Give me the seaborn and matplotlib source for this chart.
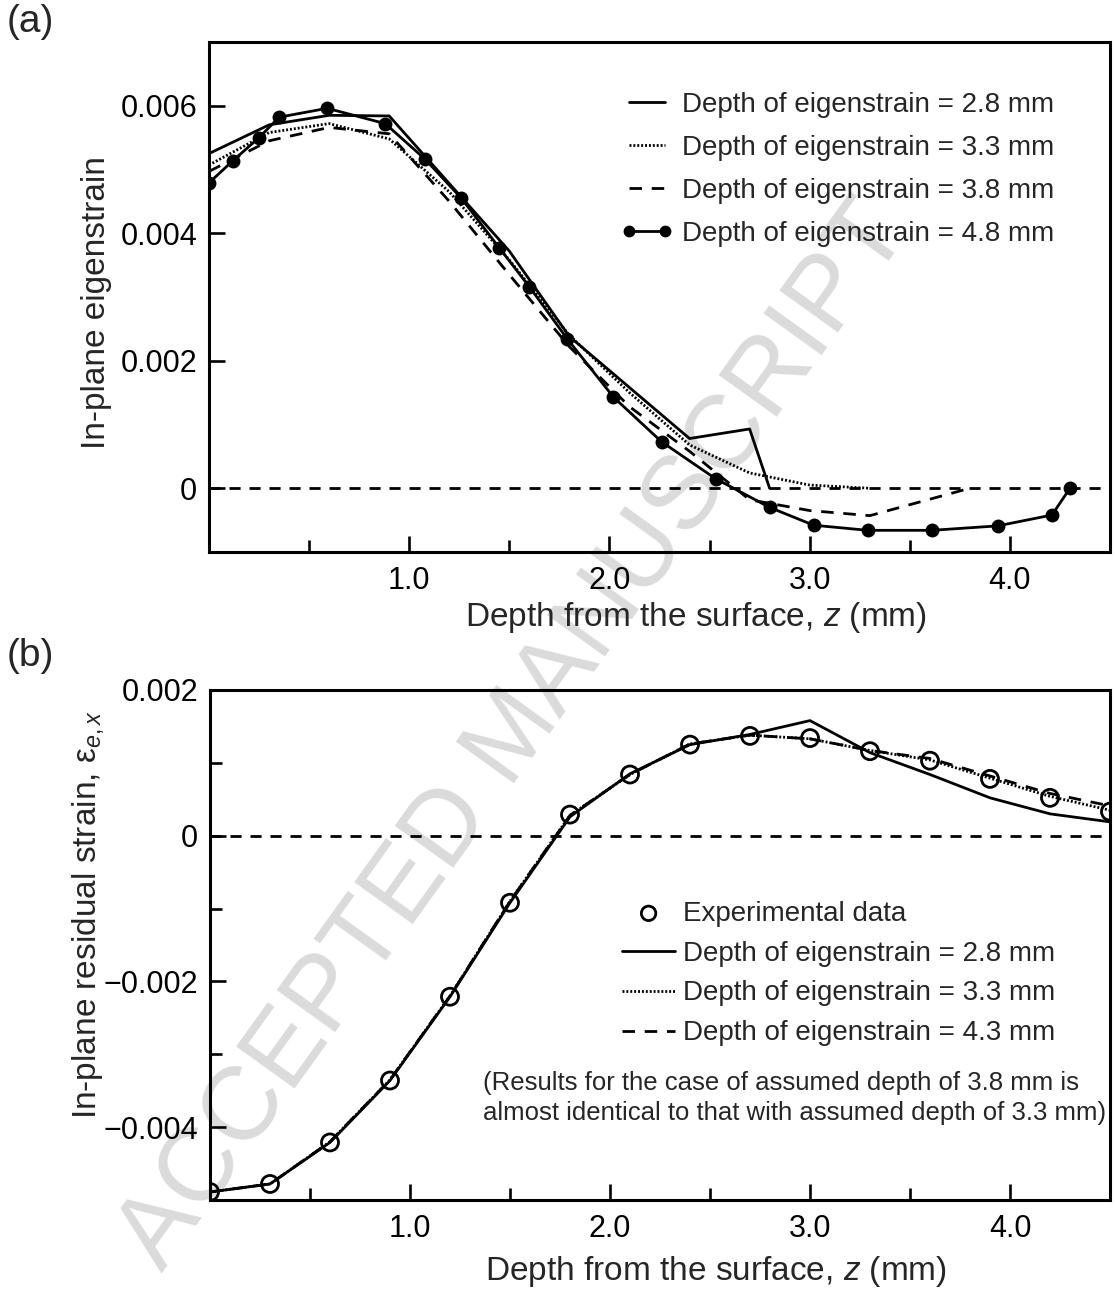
import matplotlib
matplotlib.use("Agg")
import matplotlib.pyplot as plt
import seaborn as sns
from matplotlib.ticker import MultipleLocator, FuncFormatter

sns.set_theme(style="ticks")
plt.rcParams['font.family'] = ['Liberation Sans', 'DejaVu Sans']
plt.rcParams['mathtext.fontset'] = 'custom'
plt.rcParams['mathtext.rm'] = 'Liberation Sans'
plt.rcParams['mathtext.it'] = 'Liberation Sans:italic'

# ---- (a) assumed in-plane eigenstrain profiles ----
z_28 = [0, 0.3, 0.6, 0.9, 1.2, 1.5, 1.8, 2.1, 2.4, 2.7, 2.8]
eig_28 = [0.00525, 0.00570, 0.00585, 0.00584, 0.00478, 0.00372, 0.00238,
          0.00158, 0.00078, 0.00093, 0.0]
z_33 = [0, 0.3, 0.6, 0.9, 1.2, 1.5, 1.8, 2.1, 2.4, 2.7, 3.0, 3.3]
eig_33 = [0.00507, 0.00558, 0.00572, 0.00548, 0.00465, 0.00358, 0.00240,
          0.00150, 0.00068, 0.00024, 0.00005, 0.0]
z_38 = [0, 0.3, 0.6, 0.9, 1.2, 1.5, 1.8, 2.1, 2.4, 2.7, 3.0, 3.3, 3.8]
eig_38 = [0.00497, 0.00545, 0.00566, 0.00556, 0.00450, 0.00335, 0.00222,
          0.00128, 0.00058, -0.00018, -0.00035, -0.00043, 0.0]
z_48 = [0, 0.12, 0.25, 0.35, 0.59, 0.88, 1.08, 1.26, 1.45, 1.60, 1.79,
        2.02, 2.26, 2.53, 2.80, 3.02, 3.29, 3.61, 3.94, 4.21, 4.30]
eig_48 = [0.00479, 0.00514, 0.00550, 0.00582, 0.00596, 0.00572, 0.00516,
          0.00455, 0.00377, 0.00316, 0.00234, 0.00143, 0.00073, 0.00015,
          -0.00030, -0.00058, -0.00066, -0.00066, -0.00059, -0.00042, 0.0]
labels_a = ["Depth of eigenstrain = 2.8 mm", "Depth of eigenstrain = 3.3 mm",
            "Depth of eigenstrain = 3.8 mm", "Depth of eigenstrain = 4.8 mm"]

# ---- (b) in-plane residual strain ----
z_b = [0.0, 0.3, 0.6, 0.9, 1.2, 1.5, 1.8, 2.1, 2.4, 2.7, 3.0, 3.3, 3.6,
       3.9, 4.2, 4.5]
exp_b = [-0.00489, -0.00478, -0.00421, -0.00336, -0.00221, -0.00092,
         0.00029, 0.00084, 0.00125, 0.00137, 0.00134, 0.00116, 0.00103,
         0.00078, 0.00052, 0.00033]
res_28 = [-0.00489, -0.00478, -0.00421, -0.00336, -0.00221, -0.00092,
          0.00026, 0.00085, 0.00125, 0.00139, 0.00158, 0.00114, 0.00084,
          0.00052, 0.00030, 0.00019]
res_33 = [-0.00489, -0.00478, -0.00420, -0.00335, -0.00220, -0.00090,
          0.00028, 0.00084, 0.00126, 0.00138, 0.00133, 0.00117, 0.00104,
          0.00079, 0.00054, 0.00035]
res_43 = [-0.00489, -0.00478, -0.00420, -0.00335, -0.00220, -0.00090,
          0.00028, 0.00084, 0.00126, 0.00138, 0.00133, 0.00117, 0.00106,
          0.00082, 0.00058, 0.00041]
labels_b = ["Experimental data", "Depth of eigenstrain = 2.8 mm",
            "Depth of eigenstrain = 3.3 mm", "Depth of eigenstrain = 4.3 mm"]
note_b = ["(Results for the case of assumed depth of 3.8 mm is",
          "almost identical to that with assumed depth of 3.3 mm)"]

W, H = 1115, 1292
fig = plt.figure(figsize=(W / 100, H / 100), dpi=100)
fig.patch.set_facecolor("white")


def px_axes(l, t, r, b):
    return fig.add_axes([l / W, 1 - b / H, (r - l) / W, (b - t) / H])


ax1 = px_axes(209, 42, 1110, 552)
ax2 = px_axes(210, 690, 1110, 1200)

LW = 2.0
DOT = (0, (0.7, 0.7))
DASH = (0, (4.5, 3.5))
ZERO = (0, (4, 3.2))

# panel (a)
sns.lineplot(x=z_28, y=eig_28, ax=ax1, color="black", lw=LW, sort=False,
             estimator=None, errorbar=None, label=labels_a[0])
sns.lineplot(x=z_33, y=eig_33, ax=ax1, color="black", lw=LW, linestyle=DOT,
             sort=False, estimator=None, errorbar=None, label=labels_a[1])
sns.lineplot(x=z_38, y=eig_38, ax=ax1, color="black", lw=LW, linestyle=DASH,
             sort=False, estimator=None, errorbar=None, label=labels_a[2])
sns.lineplot(x=z_48, y=eig_48, ax=ax1, color="black", lw=LW, marker="o",
             markersize=10, markeredgewidth=0, sort=False, estimator=None,
             errorbar=None, label=labels_a[3])
ax1.axhline(0, color="black", lw=LW, linestyle=ZERO, zorder=1)

# panel (b)
sns.scatterplot(x=z_b, y=exp_b, ax=ax2, s=150, facecolors="none",
                edgecolor="black", linewidth=2.0, zorder=5, label=labels_b[0])
sns.lineplot(x=z_b, y=res_28, ax=ax2, color="black", lw=LW, sort=False,
             estimator=None, errorbar=None, label=labels_b[1])
sns.lineplot(x=z_b, y=res_33, ax=ax2, color="black", lw=LW, linestyle=DOT,
             sort=False, estimator=None, errorbar=None, label=labels_b[2])
sns.lineplot(x=z_b, y=res_43, ax=ax2, color="black", lw=LW, linestyle=DASH,
             sort=False, estimator=None, errorbar=None, label=labels_b[3])
ax2.axhline(0, color="black", lw=LW, linestyle=ZERO, zorder=1)

for ax in (ax1, ax2):
    ax.set_facecolor("none")
    ax.set_xlim(0, 4.5)
    ax.xaxis.set_major_locator(MultipleLocator(1.0))
    ax.xaxis.set_minor_locator(MultipleLocator(0.5))
    ax.xaxis.set_major_formatter(FuncFormatter(
        lambda v, p: "" if abs(v) < 1e-9 else f"{v:.1f}"))
    for s in ax.spines.values():
        s.set_linewidth(2.2)
        s.set_color("black")
    ax.tick_params(which="both", direction="in", colors="black",
                   labelsize=22, width=1.9)
    ax.tick_params(which="major", length=11.5)
    ax.tick_params(which="minor", length=8.5)
    ax.tick_params(axis="x", pad=10)
    ax.tick_params(axis="y", pad=8.5)
    ax.set_xlabel("Depth from the surface, $\\it{z}$ (mm)", fontsize=24)


def strain_fmt(v, p):
    if abs(v) < 1e-12:
        return "0"
    return f"{v:.3f}".replace("-", "\u2212")


ax1.set_ylim(-0.001, 0.007)
ax1.yaxis.set_major_locator(MultipleLocator(0.002))
ax1.yaxis.set_major_formatter(FuncFormatter(strain_fmt))
ax1.set_ylabel("In-plane eigenstrain", fontsize=24)

ax2.set_ylim(-0.005, 0.002)
ax2.yaxis.set_major_locator(MultipleLocator(0.002))
ax2.yaxis.set_minor_locator(MultipleLocator(0.001))
ax2.yaxis.set_major_formatter(FuncFormatter(strain_fmt))
ax2.set_ylabel("In-plane residual strain, \u03b5$_{\\it{e,x}}$", fontsize=24)

ax1.xaxis.set_label_coords(0.5405, -0.095)
ax2.xaxis.set_label_coords(0.562, -0.105)
ax1.yaxis.set_label_coords(-0.108, 0.49)
ax2.yaxis.set_label_coords(-0.115, 0.559)

leg_kw = dict(frameon=False, fontsize=20, loc="upper left", borderpad=0,
              borderaxespad=0, handlelength=1.9, handletextpad=0.3,
              markerscale=0.85)
h1, l1 = ax1.get_legend_handles_labels()
ax1.legend(h1, l1, bbox_to_anchor=(0.457, 0.902), labelspacing=0.61,
           numpoints=2, **leg_kw)
h2, l2 = ax2.get_legend_handles_labels()
ax2.legend(h2, l2, bbox_to_anchor=(0.458, 0.587), labelspacing=0.50,
           numpoints=1, scatterpoints=1, **leg_kw)

ax2.text(0.303, 0.229, note_b[0], transform=ax2.transAxes, fontsize=18.5,
         ha="left", va="center")
ax2.text(0.303, 0.171, note_b[1], transform=ax2.transAxes, fontsize=18.5,
         ha="left", va="center")

fig.text(7 / W, 1 - 22 / H, "(a)", fontsize=28, ha="left", va="center")
fig.text(7 / W, 1 - 656 / H, "(b)", fontsize=28, ha="left", va="center")

# diagonal manuscript stamp behind both panels
fig.text(515 / W, 1 - 737 / H, "ACCEPTED MANUSCRIPT", fontsize=75,
         color="#dbdbdb", rotation=54.3, ha="center", va="center",
         rotation_mode="anchor", zorder=-1)

fig.savefig("out.png", dpi=100, facecolor="white")
